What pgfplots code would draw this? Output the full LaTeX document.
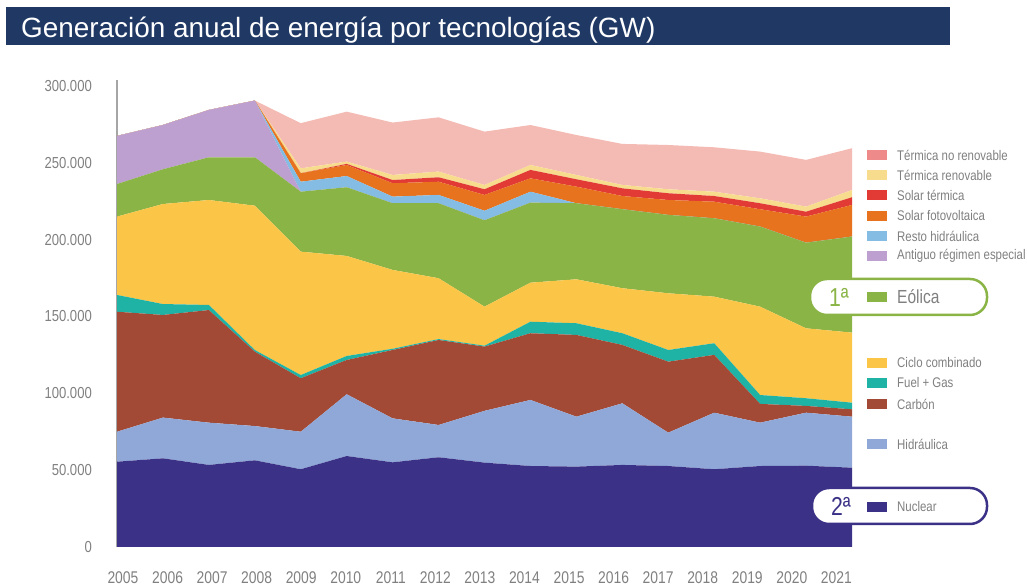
\documentclass[border=0pt]{standalone}
\usepackage{fontspec}
\setmainfont{Liberation Sans}
\newfontfamily\narrow[FakeStretch=0.82]{Liberation Sans}
\usepackage{pgfplots}
\pgfplotsset{compat=1.18}
\usepackage{pgfplotstable}

\definecolor{titlebar}{HTML}{1F3864}
\definecolor{cNuc}{HTML}{3B3287}
\definecolor{cHid}{HTML}{8FA8D8}
\definecolor{cCar}{HTML}{A24A35}
\definecolor{cFue}{HTML}{1FB3A6}
\definecolor{cCic}{HTML}{FBC548}
\definecolor{cEol}{HTML}{8AB446}
\definecolor{cAnt}{HTML}{BDA0CF}
\definecolor{cRes}{HTML}{84BCE4}
\definecolor{cFV}{HTML}{E8731E}
\definecolor{cST}{HTML}{E23B36}
\definecolor{cTR}{HTML}{F7DC8E}
\definecolor{cTNR}{HTML}{F4BBB4}
\definecolor{cTNRleg}{HTML}{EE8A8A}
\definecolor{txt}{HTML}{808080}

% generacion por tecnologia
\pgfplotstableread{
year N     H     C     F     CC    E     A     RH   FV    ST   TR   TNR
2005 55500 19500 78100 10900 51000 21200 31300 0    0     0    0    0
2006 57700 26500 66800 7100  65100 22600 28800 0    0     0    0    0
2007 53400 27500 73300 3300  68300 27800 30800 0    0     0    0    0
2008 56400 22300 48400 1100  93900 31500 36900 0    0     0    0    0
2009 50600 24400 34800 2100  80300 39000 0     6500 5500  0    3200 29400
2010 59200 40200 22300 2600  65100 44700 0     7300 7200  700  1500 32500
2011 55100 28600 44500 800   51300 43400 0     4300 8700  2100 3300 34100
2012 58400 21000 55300 600   39600 48800 0     5400 8600  2900 3700 35300
2013 54900 33700 41800 600   25400 56200 0     6200 10300 3700 2800 34700
2014 52700 43000 43400 7500  25400 52100 0     7100 8700  5500 3200 26000
2015 52300 32500 53200 7600  28600 49500 0     0    10800 4800 2800 26000
2016 53400 40100 38000 7600  29300 51400 0     0    8600  5000 2200 26700
2017 52700 21700 46200 7600  36900 51000 0     0    9700  4400 2600 28800
2018 50600 36800 37600 7600  30300 51000 0     0    10800 3700 2800 28900
2019 52700 28200 12200 5800  57500 52100 0     0    11300 3900 3200 30400
2020 52900 34500 4400  5000  45500 55700 0     0    17000 3200 3300 30400
2021 51600 33200 4800  4300  45600 62500 0     0    20600 5000 4700 27200
}\datos

\begin{document}
\begin{tikzpicture}[x=1bp,y=1bp]
\path[use as bounding box] (0,0) rectangle (1027,587);

% titulo
\fill[titlebar] (6,542) rectangle (950,580);
\node[anchor=base west, inner sep=0pt, text=white, font=\fontsize{28}{28}\selectfont] at (21,549) {Generación anual de energía por tecnologías (GW)};

\begin{axis}[
at={(117bp,40bp)}, anchor=south west,
scale only axis, width=735bp, height=467bp,
xmin=2005, xmax=2021, ymin=0, ymax=303900,
stack plots=y,
axis lines*=left,
x axis line style={draw=none},
y axis line style={draw=black!35, line width=1.2bp},
major tick length=0pt,
ytick={0,50000,100000,150000,200000,250000,300000},
scaled y ticks=false,
/pgf/number format/assume math mode=true,
/pgf/number format/1000 sep={.},
/pgf/number format/fixed,
yticklabel style={anchor=east, inner sep=0pt, xshift=-25bp, text=txt, font=\narrow\fontsize{16}{16}\selectfont},
xtick={2005.13,2006.10,2007.07,2008.04,2009.01,2009.98,2010.96,2011.93,2012.90,2013.87,2014.84,2015.81,2016.78,2017.75,2018.72,2019.69,2020.66},
xticklabels={2005,2006,2007,2008,2009,2010,2011,2012,2013,2014,2015,2016,2017,2018,2019,2020,2021},
xticklabel style={anchor=center, inner sep=0pt, yshift=-31bp, text=txt, font=\narrow\fontsize{17}{17}\selectfont},
]
\addplot[fill=cNuc, draw=none] table[x=year,y=N]{\datos} \closedcycle;
\addplot[fill=cHid, draw=none] table[x=year,y=H]{\datos} \closedcycle;
\addplot[fill=cCar, draw=none] table[x=year,y=C]{\datos} \closedcycle;
\addplot[fill=cFue, draw=none] table[x=year,y=F]{\datos} \closedcycle;
\addplot[fill=cCic, draw=none] table[x=year,y=CC]{\datos} \closedcycle;
\addplot[fill=cEol, draw=none] table[x=year,y=E]{\datos} \closedcycle;
\addplot[fill=cAnt, draw=none] table[x=year,y=A]{\datos} \closedcycle;
\addplot[fill=cRes, draw=none] table[x=year,y=RH]{\datos} \closedcycle;
\addplot[fill=cFV, draw=none] table[x=year,y=FV]{\datos} \closedcycle;
\addplot[fill=cST, draw=none] table[x=year,y=ST]{\datos} \closedcycle;
\addplot[fill=cTR, draw=none] table[x=year,y=TR]{\datos} \closedcycle;
\addplot[fill=cTNR, draw=none] table[x=year,y=TNR]{\datos} \closedcycle;
\end{axis}

% leyenda
\tikzset{lt/.style={anchor=west, inner sep=0pt, text=txt, font=\narrow\fontsize{14}{14}\selectfont}}
\foreach \c/\t/\y in {cTNRleg/Térmica no renovable/432, cTR/Térmica renovable/412, cST/Solar térmica/392, cFV/Solar fotovoltaica/371, cRes/Resto hidráulica/351, cAnt/Antiguo régimen especial/331, cCic/Ciclo combinado/224, cFue/Fuel + Gas/204, cCar/Carbón/183, cHid/Hidráulica/143}{
  \fill[\c] (867,\y-5) rectangle (887,\y+5);
  \node[lt] at (897,\y) {\t};
}

% Eolica
\draw[cEol, line width=2.5bp, fill=white, rounded corners=17bp] (810,272) rectangle (987,308);
\node[text=cEol, font=\narrow\fontsize{26}{26}\selectfont, inner sep=0pt] at (839,290) {1ª};
\fill[cEol] (867,285) rectangle (887,295);
\node[anchor=west, inner sep=0pt, text=txt, font=\narrow\fontsize{19}{19}\selectfont] at (897,290) {Eólica};

% Nuclear
\draw[cNuc, line width=2.5bp, fill=white, rounded corners=17bp] (812,63) rectangle (987,99);
\node[text=cNuc, font=\narrow\fontsize{26}{26}\selectfont, inner sep=0pt] at (841,81) {2ª};
\fill[cNuc] (867,75) rectangle (887,85);
\node[lt] at (897,80) {Nuclear};
\end{tikzpicture}
\end{document}
